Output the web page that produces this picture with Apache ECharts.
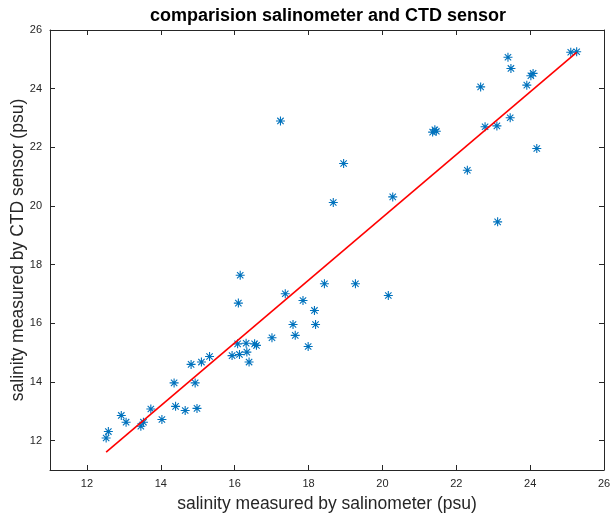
<!DOCTYPE html>
<html>
<head>
<meta charset="utf-8">
<script src="https://cdn.jsdelivr.net/npm/echarts@6/dist/echarts.min.js"></script>
<style>
  html, body { margin: 0; padding: 0; background: #fff; }
  #chart { width: 613px; height: 517px; }
</style>
</head>
<body>
<div id="chart"></div>
<script>
const titleText = 'comparision salinometer and CTD sensor';
const xName = 'salinity measured by salinometer (psu)';
const yName = 'salinity measured by CTD sensor (psu)';

const salinometer = [12.52, 12.58, 12.93, 13.06, 13.46, 13.53, 13.73, 14.03, 14.36, 14.40,
  14.66, 14.93, 14.98, 14.82, 15.10, 15.32, 15.93, 16.13, 16.33, 16.39,
  16.08, 16.31, 16.54, 16.59, 17.01, 16.15, 16.10, 17.37, 17.85, 18.16,
  17.58, 18.19, 17.64, 17.99, 18.43, 19.27, 20.16, 17.24, 18.95, 18.67,
  20.28, 21.36, 21.42, 21.46, 22.30, 22.78, 23.10, 23.46, 24.18, 23.12,
  22.66, 23.40, 23.48, 23.91, 24.02, 24.08, 25.10, 25.26];
const ctdSensor = [12.09, 12.31, 12.86, 12.63, 12.49, 12.63, 13.08, 12.72, 13.97, 13.17,
  13.03, 13.97, 13.10, 14.60, 14.68, 14.87, 14.90, 14.94, 15.02, 14.68,
  15.30, 15.32, 15.30, 15.25, 15.51, 17.64, 16.69, 17.01, 16.78, 16.44,
  15.96, 15.96, 15.59, 15.21, 17.35, 17.35, 16.95, 22.90, 21.45, 20.12,
  20.31, 22.52, 22.60, 22.55, 21.22, 22.70, 22.73, 23.01, 21.96, 19.46,
  24.06, 25.07, 24.69, 24.12, 24.44, 24.52, 25.24, 25.26];
const fitX = [12.52, 25.26];
const fitY = [11.61, 25.24];
const tickValues = [12, 14, 16, 18, 20, 22, 24, 26];
const axisMin = 11, axisMax = 26;

const FONT = '"Liberation Sans", Arial, Helvetica, sans-serif';
const AX = '#262626';
const asterisk = 'path://M5 0 L5 10 M0 5 L10 5 M1.46 1.46 L8.54 8.54 M8.54 1.46 L1.46 8.54';

function mkAxis(pos, showLabel) {
  return {
    type: 'value', position: pos, min: axisMin, max: axisMax,
    axisLine: { show: true, onZero: false, lineStyle: { color: AX, width: 1 } },
    axisTick: { show: true, inside: true, length: 5, customValues: tickValues, lineStyle: { color: AX, width: 1 } },
    axisLabel: { show: showLabel, customValues: tickValues, color: AX, fontSize: 11, fontFamily: FONT, margin: 8 },
    splitLine: { show: false }
  };
}

const xMain = mkAxis('bottom', true);
xMain.name = xName; xMain.nameLocation = 'middle'; xMain.nameGap = 25;
xMain.nameTextStyle = { color: AX, fontSize: 17.5, fontFamily: FONT };
const yMain = mkAxis('left', true);
yMain.name = yName; yMain.nameLocation = 'middle'; yMain.nameGap = 23; yMain.nameMoveOverlap = false;
yMain.nameTextStyle = { color: AX, fontSize: 17.5, fontFamily: FONT };

const chart = echarts.init(document.getElementById('chart'), null, { renderer: 'canvas' });
chart.setOption({
  animation: false,
  backgroundColor: '#fff',
  grid: { left: 50, right: 9, top: 30, bottom: 47, containLabel: false, outerBoundsMode: 'none' },
  xAxis: [xMain, mkAxis('top', false)],
  yAxis: [yMain, mkAxis('right', false)],
  graphic: [{
    type: 'text', x: 328, y: 16,
    style: { text: titleText, fill: '#000', font: 'bold 18px ' + FONT, textAlign: 'center', textVerticalAlign: 'middle' }
  }],
  series: [
    {
      type: 'scatter', xAxisIndex: 0, yAxisIndex: 0,
      data: salinometer.map((v, i) => [v, ctdSensor[i]]),
      symbol: asterisk, symbolSize: 9,
      itemStyle: { color: '#0072BD', borderColor: '#0072BD', borderWidth: 1.1, opacity: 1 }
    },
    {
      type: 'line', xAxisIndex: 0, yAxisIndex: 0,
      data: fitX.map((v, i) => [v, fitY[i]]),
      showSymbol: false, symbol: 'none',
      lineStyle: { color: '#ff0000', width: 1.6 }
    }
  ]
});
</script>
</body>
</html>
